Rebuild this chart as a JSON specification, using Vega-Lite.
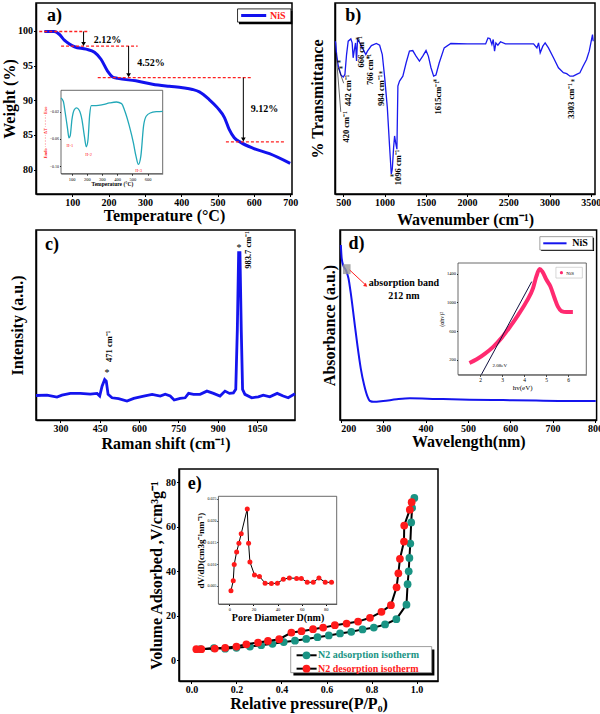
{
"$schema": "https://vega.github.io/schema/vega-lite/v6.json",
"background": "white",
"padding": {"left": 0, "top": 2, "right": 0, "bottom": 0},
"config": {
 "font": "Liberation Serif",
 "view": {"stroke": "black", "strokeWidth": 1.5},
 "axis": {"labelFont": "Liberation Serif", "titleFont": "Liberation Serif", "labelFontSize": 10, "labelFontWeight": "bold", "titleFontSize": 16, "titleFontWeight": "bold", "labelColor": "black", "titleColor": "black", "domainColor": "black", "tickColor": "black", "grid": false, "tickSize": 2.5, "domainWidth": 1.5, "labelPadding": 1, "titlePadding": 1},
 "text": {"font": "Liberation Serif"}
},
"datasets": {
 "tga": [{"x":23,"y":99.9},{"x":50,"y":99.9},{"x":64,"y":99.5},{"x":78,"y":98.65},{"x":92,"y":98.1},{"x":106,"y":97.7},{"x":138,"y":97.35},{"x":161,"y":96.9},{"x":179,"y":95.9},{"x":197,"y":94.2},{"x":211,"y":93.35},{"x":225,"y":93.15},{"x":275,"y":92.8},{"x":321,"y":92.3},{"x":367,"y":92.0},{"x":404,"y":91.8},{"x":431,"y":91.55},{"x":450,"y":91.2},{"x":477,"y":90.1},{"x":500,"y":88.9},{"x":519,"y":87.5},{"x":532,"y":85.8},{"x":546,"y":84.6},{"x":565,"y":83.9},{"x":597,"y":83.1},{"x":643,"y":82.3},{"x":700,"y":80.9}],
 "tgaDash": [{"x":9,"x2":147,"y":99.9},{"x":69,"x2":280,"y":97.8},{"x":170,"x2":592,"y":93.25},{"x":523,"x2":688,"y":84.0}],
 "tgaArrow": [{"x":131,"y":99.9,"y2":98.1},{"x":255,"y":97.8,"y2":93.6},{"x":571,"y":93.25,"y2":84.35}],
 "tgaText": [{"x":197,"y":98.65,"t":"2.12%"},{"x":317,"y":95.4,"t":"4.52%"},{"x":629,"y":88.7,"t":"9.12%"}],
 "dta": [{"x":30,"y":0.0},{"x":45,"y":-0.0049},{"x":58,"y":-0.022},{"x":74,"y":-0.0463},{"x":82,"y":-0.0585},{"x":91,"y":-0.055},{"x":102,"y":-0.0317},{"x":118,"y":-0.017},{"x":133,"y":-0.0146},{"x":150,"y":-0.018},{"x":168,"y":-0.0317},{"x":184,"y":-0.056},{"x":197,"y":-0.0717},{"x":208,"y":-0.061},{"x":219,"y":-0.0244},{"x":230,"y":-0.0112},{"x":261,"y":-0.0112},{"x":305,"y":-0.0098},{"x":350,"y":-0.0073},{"x":396,"y":-0.0059},{"x":429,"y":-0.0083},{"x":451,"y":-0.0195},{"x":480,"y":-0.041},{"x":507,"y":-0.066},{"x":524,"y":-0.0854},{"x":540,"y":-0.0976},{"x":556,"y":-0.0854},{"x":574,"y":-0.041},{"x":591,"y":-0.0268},{"x":618,"y":-0.022},{"x":662,"y":-0.02},{"x":700,"y":-0.0195}],
 "dtaLab": [{"x":89,"y":-0.0668,"t":"II-1"},{"x":212,"y":-0.079,"t":"II-2"},{"x":542,"y":-0.1024,"t":"II-3"}],
 "ir": [{"x":402,"y":80},{"x":408,"y":79.1},{"x":420,"y":73},{"x":440,"y":67},{"x":472,"y":62.3},{"x":500,"y":61.2},{"x":520,"y":62.6},{"x":540,"y":73},{"x":560,"y":80},{"x":592,"y":81.2},{"x":608,"y":79.1},{"x":620,"y":71.3},{"x":632,"y":74.8},{"x":649,"y":79.1},{"x":661,"y":69.6},{"x":673,"y":80.9},{"x":701,"y":79.1},{"x":741,"y":75.7},{"x":773,"y":73},{"x":793,"y":74.8},{"x":841,"y":77.7},{"x":901,"y":78.8},{"x":941,"y":77.9},{"x":973,"y":73},{"x":1002,"y":60.9},{"x":1034,"y":45.2},{"x":1062,"y":24.3},{"x":1082,"y":10.4},{"x":1094,"y":13},{"x":1110,"y":24.3},{"x":1122,"y":30.4},{"x":1134,"y":27},{"x":1150,"y":23.5},{"x":1162,"y":56.5},{"x":1182,"y":59.1},{"x":1222,"y":61.7},{"x":1262,"y":68.7},{"x":1302,"y":74.8},{"x":1342,"y":75.1},{"x":1382,"y":72.2},{"x":1423,"y":69.6},{"x":1463,"y":72.2},{"x":1503,"y":75.1},{"x":1531,"y":72.2},{"x":1563,"y":66.1},{"x":1595,"y":61.7},{"x":1623,"y":62.3},{"x":1663,"y":68.7},{"x":1723,"y":76.5},{"x":1803,"y":78.8},{"x":2004,"y":78.6},{"x":2225,"y":78.6},{"x":2253,"y":81.7},{"x":2277,"y":81.4},{"x":2301,"y":78.3},{"x":2317,"y":80.9},{"x":2333,"y":74.8},{"x":2349,"y":79.1},{"x":2373,"y":77.9},{"x":2405,"y":79.7},{"x":2465,"y":78.6},{"x":2606,"y":78.6},{"x":2806,"y":78.6},{"x":2846,"y":76.5},{"x":2866,"y":79.1},{"x":2886,"y":73.9},{"x":2918,"y":77.4},{"x":2946,"y":79.1},{"x":2986,"y":76.5},{"x":3047,"y":71.3},{"x":3107,"y":66.1},{"x":3167,"y":63.5},{"x":3207,"y":63},{"x":3247,"y":61.7},{"x":3287,"y":61.7},{"x":3327,"y":62.6},{"x":3367,"y":63.5},{"x":3407,"y":67},{"x":3448,"y":70.4},{"x":3480,"y":74.8},{"x":3500,"y":79.1},{"x":3520,"y":83.5},{"x":3528,"y":80}],
 "irLab": [{"x":528,"y":35.1,"t":"420 cm⁻¹"},{"x":560,"y":54.3,"t":"442 cm⁻¹"},{"x":721,"y":74.4,"t":"666 cm⁻¹"},{"x":821,"y":65.2,"t":"766 cm⁻¹"},{"x":961,"y":54.3,"t":"984 cm⁻¹"},{"x":1162,"y":13.9,"t":"1096 cm⁻¹"},{"x":1643,"y":50.4,"t":"1615cm⁻¹"},{"x":3255,"y":48.7,"t":"3303 cm⁻¹"}],
 "irStar": [{"x":448,"y":68.5},{"x":472,"y":65.5},{"x":673,"y":80.5},{"x":801,"y":70.5},{"x":953,"y":63},{"x":1090,"y":9},{"x":1611,"y":58.5},{"x":3279,"y":58.5}],
 "irLead": [{"x":413,"y":74,"x2":470,"y2":43},{"x":440,"y":66,"x2":505,"y2":58}],
 "raman": [{"x":207,"y":12.9},{"x":249,"y":13.1},{"x":287,"y":12.1},{"x":306,"y":13.1},{"x":338,"y":14},{"x":376,"y":14},{"x":414,"y":13.6},{"x":440,"y":14},{"x":450,"y":12.6},{"x":459,"y":17.8},{"x":469,"y":21.3},{"x":475,"y":20.5},{"x":482,"y":13.5},{"x":497,"y":11.7},{"x":522,"y":11.2},{"x":554,"y":10},{"x":580,"y":11.4},{"x":618,"y":12.6},{"x":650,"y":13.5},{"x":681,"y":12.6},{"x":700,"y":13.6},{"x":719,"y":12.6},{"x":734,"y":10.5},{"x":757,"y":11.4},{"x":776,"y":11.7},{"x":789,"y":14},{"x":808,"y":13.5},{"x":833,"y":13.5},{"x":859,"y":15.2},{"x":884,"y":14},{"x":909,"y":12.6},{"x":928,"y":15.2},{"x":945,"y":14},{"x":960,"y":14.3},{"x":969,"y":16.1},{"x":975,"y":47.6},{"x":980,"y":88.1},{"x":985,"y":88.1},{"x":990,"y":47.6},{"x":995,"y":16.1},{"x":1004,"y":13.5},{"x":1030,"y":11.7},{"x":1055,"y":12.2},{"x":1074,"y":13.1},{"x":1099,"y":12.2},{"x":1127,"y":14},{"x":1150,"y":12.6},{"x":1169,"y":11.7},{"x":1195,"y":13.8}],
 "uv": [{"x":200,"y":92.1},{"x":202,"y":85.1},{"x":206,"y":81.2},{"x":212,"y":78.9},{"x":218,"y":74.6},{"x":224,"y":65.8},{"x":231,"y":53.5},{"x":239,"y":39.5},{"x":247,"y":27.2},{"x":255,"y":18.4},{"x":263,"y":12.3},{"x":269,"y":10},{"x":277,"y":9.6},{"x":300,"y":10},{"x":332,"y":10.9},{"x":363,"y":11.4},{"x":425,"y":11.1},{"x":504,"y":10.7},{"x":583,"y":10.5},{"x":661,"y":10.2},{"x":740,"y":10},{"x":802,"y":10}],
 "tauc": [{"x":1.52,"y":153},{"x":1.85,"y":205},{"x":2.23,"y":284},{"x":2.6,"y":378},{"x":2.98,"y":504},{"x":3.36,"y":659},{"x":3.73,"y":823},{"x":4.11,"y":1010},{"x":4.41,"y":1198},{"x":4.56,"y":1362},{"x":4.71,"y":1465},{"x":4.83,"y":1432},{"x":5.02,"y":1315},{"x":5.2,"y":1221},{"x":5.39,"y":1057},{"x":5.54,"y":940},{"x":5.7,"y":879},{"x":5.92,"y":865},{"x":6.22,"y":865}],
 "ads": [{"x":0.04,"y":5.0},{"x":0.1,"y":5.5},{"x":0.15,"y":5.2},{"x":0.2,"y":5.6},{"x":0.26,"y":6.2},{"x":0.31,"y":6.8},{"x":0.36,"y":7.4},{"x":0.41,"y":8.2},{"x":0.46,"y":8.8},{"x":0.51,"y":9.6},{"x":0.56,"y":10.4},{"x":0.61,"y":11.2},{"x":0.66,"y":12.1},{"x":0.71,"y":12.8},{"x":0.76,"y":13.9},{"x":0.81,"y":14.7},{"x":0.86,"y":16.1},{"x":0.91,"y":18.5},{"x":0.955,"y":25},{"x":0.96,"y":34.2},{"x":0.965,"y":40},{"x":0.968,"y":46},{"x":0.972,"y":52.5},{"x":0.976,"y":62},{"x":0.98,"y":68.5},{"x":0.99,"y":73}],
 "des": [{"x":0.022,"y":5.0},{"x":0.044,"y":5.0},{"x":0.104,"y":5.3},{"x":0.15,"y":5.6},{"x":0.2,"y":6.2},{"x":0.244,"y":7.2},{"x":0.296,"y":8.0},{"x":0.34,"y":8.7},{"x":0.39,"y":9.5},{"x":0.444,"y":12.5},{"x":0.489,"y":13.1},{"x":0.54,"y":14},{"x":0.585,"y":14.7},{"x":0.637,"y":15.8},{"x":0.689,"y":16.5},{"x":0.74,"y":17.4},{"x":0.793,"y":19.1},{"x":0.844,"y":21.8},{"x":0.886,"y":24.8},{"x":0.911,"y":32.8},{"x":0.919,"y":39.1},{"x":0.926,"y":45.6},{"x":0.944,"y":53.4},{"x":0.945,"y":60.6},{"x":0.97,"y":67.7},{"x":0.978,"y":71.1}],
 "pore": [{"x":1.4,"y":0.00385},{"x":3.3,"y":0.00615},{"x":4.1,"y":0.0099},{"x":6.1,"y":0.0128},{"x":8.0,"y":0.0148},{"x":9.9,"y":0.017},{"x":14.9,"y":0.0227},{"x":16,"y":0.0148},{"x":17.1,"y":0.0105},{"x":20.9,"y":0.0075},{"x":25,"y":0.00715},{"x":29.7,"y":0.0056},{"x":34.9,"y":0.0055},{"x":39.9,"y":0.0056},{"x":44.8,"y":0.0065},{"x":49.8,"y":0.0068},{"x":55.8,"y":0.0067},{"x":59.7,"y":0.0067},{"x":64.6,"y":0.0058},{"x":69.6,"y":0.0058},{"x":74.3,"y":0.0068},{"x":79.5,"y":0.0058},{"x":84.7,"y":0.0058}]
},
"vconcat": [
 {
  "vconcat": [
   {
    "hconcat": [
     {
      "width": 256, "height": 191,
      "layer": [
       {"layer": [
        {"data": {"name": "tga"}, "mark": {"type": "line", "color": "#1212ee", "strokeWidth": 3, "interpolate": "monotone"},
         "encoding": {
          "x": {"field": "x", "type": "quantitative", "scale": {"domain": [0, 705], "nice": false, "zero": false}, "axis": {"title": "Temperature (°C)", "values": [100, 200, 300, 400, 500, 600, 700], "titlePadding": 0}},
          "y": {"field": "y", "type": "quantitative", "scale": {"domain": [76.5, 104], "nice": false, "zero": false}, "axis": {"title": "Weight (%)", "values": [80, 85, 90, 95, 100], "titlePadding": 0}}}},
        {"data": {"name": "tgaDash"}, "mark": {"type": "rule", "color": "#ff2020", "strokeDash": [3, 2], "strokeWidth": 1.3},
         "encoding": {"x": {"field": "x", "type": "quantitative"}, "x2": {"field": "x2"}, "y": {"field": "y", "type": "quantitative"}}},
        {"data": {"name": "tgaArrow"}, "mark": {"type": "rule", "color": "black", "strokeWidth": 1},
         "encoding": {"x": {"field": "x", "type": "quantitative"}, "y": {"field": "y", "type": "quantitative"}, "y2": {"field": "y2"}}},
        {"data": {"name": "tgaArrow"}, "mark": {"type": "point", "shape": "triangle-down", "filled": true, "color": "black", "size": 22, "opacity": 1},
         "encoding": {"x": {"field": "x", "type": "quantitative"}, "y": {"field": "y2", "type": "quantitative"}}},
        {"data": {"name": "tgaText"}, "mark": {"type": "text", "fontSize": 10, "fontWeight": "bold", "color": "black"},
         "encoding": {"x": {"field": "x", "type": "quantitative"}, "y": {"field": "y", "type": "quantitative"}, "text": {"field": "t"}}},
        {"data": {"values": [{"x": 51, "y": 102.2, "t": "a)"}]}, "mark": {"type": "text", "fontSize": 18, "fontWeight": "bold", "color": "black"},
         "encoding": {"x": {"field": "x", "type": "quantitative"}, "y": {"field": "y", "type": "quantitative"}, "text": {"field": "t"}}},
        {"data": {"values": [{"x": 559, "x2": 706, "y": 100.95, "y2": 102.85}]}, "mark": {"type": "rect", "color": "black"},
         "encoding": {"x": {"field": "x", "type": "quantitative"}, "x2": {"field": "x2"}, "y": {"field": "y", "type": "quantitative"}, "y2": {"field": "y2"}}},
        {"data": {"values": [{"x": 555, "x2": 702, "y": 101.25, "y2": 103.15}]}, "mark": {"type": "rect", "fill": "white", "stroke": "black", "strokeWidth": 0.8},
         "encoding": {"x": {"field": "x", "type": "quantitative"}, "x2": {"field": "x2"}, "y": {"field": "y", "type": "quantitative"}, "y2": {"field": "y2"}}},
        {"data": {"values": [{"x": 565, "x2": 634, "y": 102.2}]}, "mark": {"type": "rule", "color": "#1212ee", "strokeWidth": 3},
         "encoding": {"x": {"field": "x", "type": "quantitative"}, "x2": {"field": "x2"}, "y": {"field": "y", "type": "quantitative"}}},
        {"data": {"values": [{"x": 666, "y": 102.2, "t": "NiS"}]}, "mark": {"type": "text", "fontSize": 10, "fontWeight": "bold", "color": "#ff2020"},
         "encoding": {"x": {"field": "x", "type": "quantitative"}, "y": {"field": "y", "type": "quantitative"}, "text": {"field": "t"}}}
       ]},
       {"layer": [
        {"data": {"values": [{"x": 30, "x2": 700, "y": -0.111, "y2": 0.0113}]}, "mark": {"type": "rect", "fill": "white", "stroke": "#444", "strokeWidth": 0.8},
         "encoding": {
          "x": {"field": "x", "type": "quantitative", "scale": {"domain": [30, 700], "range": [25, 126.7], "nice": false, "zero": false}, "axis": {"orient": "bottom", "offset": -20.4, "values": [100, 200, 300, 400, 500, 600], "labelFontSize": 4.5, "labelFontWeight": "normal", "tickSize": 1.5, "labelPadding": 1, "domainWidth": 0.8, "domainColor": "#444", "title": "Temperature (°C)", "titleFontSize": 5.5, "titlePadding": 1}},
          "x2": {"field": "x2"},
          "y": {"field": "y", "type": "quantitative", "scale": {"domain": [-0.111, 0.0113], "range": [170.6, 87.3], "nice": false, "zero": false}, "axis": {"orient": "left", "offset": -25, "values": [0, -0.02, -0.04, -0.06, -0.08, -0.1], "format": ".2f", "labelFontSize": 4, "labelFontWeight": "normal", "tickSize": 1.5, "labelPadding": 1, "domainWidth": 0.8, "domainColor": "#444", "title": "Endo ········ ΔT ········ Exo", "titleColor": "#ff2020", "titleFontSize": 4.5, "titlePadding": 2}},
          "y2": {"field": "y2"}}},
        {"data": {"name": "dta"}, "mark": {"type": "line", "color": "#22a8b8", "strokeWidth": 1.3, "interpolate": "monotone"},
         "encoding": {"x": {"field": "x", "type": "quantitative"}, "y": {"field": "y", "type": "quantitative"}}},
        {"data": {"name": "dtaLab"}, "mark": {"type": "text", "fontSize": 4.5, "color": "#ff2020", "baseline": "top"},
         "encoding": {"x": {"field": "x", "type": "quantitative"}, "y": {"field": "y", "type": "quantitative"}, "text": {"field": "t"}}}
       ]}
      ],
      "resolve": {"scale": {"x": "independent", "y": "independent"}}
     },
     {
      "width": 260, "height": 191,
      "layer": [
       {"data": {"name": "ir"}, "mark": {"type": "line", "color": "#1a1aee", "strokeWidth": 1.3},
        "encoding": {
         "x": {"field": "x", "type": "quantitative", "scale": {"domain": [400, 3550], "nice": false, "zero": false}, "axis": {"title": "Wavenumber (cm⁻¹)", "values": [500, 1000, 1500, 2000, 2500, 3000, 3500], "format": "d", "titlePadding": 4}},
         "y": {"field": "y", "type": "quantitative", "scale": {"domain": [0, 100], "nice": false, "zero": false}, "axis": {"title": "% Transmittance", "labels": false, "ticks": false, "titlePadding": 10}}}},
       {"data": {"name": "irLead"}, "mark": {"type": "rule", "color": "black", "strokeWidth": 0.6},
        "encoding": {"x": {"field": "x", "type": "quantitative"}, "x2": {"field": "x2"}, "y": {"field": "y", "type": "quantitative"}, "y2": {"field": "y2"}}},
       {"data": {"name": "irLab"}, "mark": {"type": "text", "fontSize": 8.5, "fontWeight": "bold", "angle": 270, "color": "black"},
        "encoding": {"x": {"field": "x", "type": "quantitative"}, "y": {"field": "y", "type": "quantitative"}, "text": {"field": "t"}}},
       {"data": {"name": "irStar"}, "mark": {"type": "text", "fontSize": 9, "color": "black", "text": "*"},
        "encoding": {"x": {"field": "x", "type": "quantitative"}, "y": {"field": "y", "type": "quantitative"}}},
       {"data": {"values": [{"x": 622, "y": 93, "t": "b)"}]}, "mark": {"type": "text", "fontSize": 18, "fontWeight": "bold", "color": "black"},
        "encoding": {"x": {"field": "x", "type": "quantitative"}, "y": {"field": "y", "type": "quantitative"}, "text": {"field": "t"}}}
      ]
     }
    ],
    "spacing": 43, "bounds": "flush"
   },
   {
    "hconcat": [
     {
      "width": 259, "height": 190,
      "layer": [
       {"data": {"name": "raman"}, "mark": {"type": "line", "color": "#1414ee", "strokeWidth": 2.8},
        "encoding": {
         "x": {"field": "x", "type": "quantitative", "scale": {"domain": [207, 1195], "nice": false, "zero": false}, "axis": {"title": "Raman shift (cm⁻¹)", "values": [300, 450, 600, 750, 900, 1050], "format": "d", "titlePadding": 2}},
         "y": {"field": "y", "type": "quantitative", "scale": {"domain": [0, 100], "nice": false, "zero": false}, "axis": {"title": "Intensity (a.u.)", "labels": false, "ticks": false, "titlePadding": 11}}}},
       {"data": {"values": [{"x": 485, "y": 38.8, "t": "471 cm⁻¹"}, {"x": 1017, "y": 89.5, "t": "983.7 cm⁻¹"}]}, "mark": {"type": "text", "fontSize": 8.5, "fontWeight": "bold", "angle": 270, "color": "black"},
        "encoding": {"x": {"field": "x", "type": "quantitative"}, "y": {"field": "y", "type": "quantitative"}, "text": {"field": "t"}}},
       {"data": {"values": [{"x": 478, "y": 24.5}, {"x": 981, "y": 90.3}]}, "mark": {"type": "text", "fontSize": 10, "color": "black", "text": "*"},
        "encoding": {"x": {"field": "x", "type": "quantitative"}, "y": {"field": "y", "type": "quantitative"}}},
       {"data": {"values": [{"x": 268, "y": 92, "t": "c)"}]}, "mark": {"type": "text", "fontSize": 18, "fontWeight": "bold", "color": "black"},
        "encoding": {"x": {"field": "x", "type": "quantitative"}, "y": {"field": "y", "type": "quantitative"}, "text": {"field": "t"}}}
      ]
     },
     {
      "width": 256.6, "height": 190,
      "layer": [
       {"layer": [
        {"data": {"name": "uv"}, "mark": {"type": "line", "color": "#1414ee", "strokeWidth": 2, "interpolate": "monotone"},
         "encoding": {
          "x": {"field": "x", "type": "quantitative", "scale": {"domain": [198, 804], "nice": false, "zero": false}, "axis": {"title": "Wavelength(nm)", "values": [200, 300, 400, 500, 600, 700, 800], "titlePadding": 0}},
          "y": {"field": "y", "type": "quantitative", "scale": {"domain": [0, 100], "nice": false, "zero": false}, "axis": {"title": "Absorbance (a.u.)", "labels": false, "ticks": false, "titlePadding": 3}}}},
        {"data": {"values": [{"x": 205, "x2": 223, "y": 76.8, "y2": 82}]}, "mark": {"type": "rect", "color": "#999999", "opacity": 0.8},
         "encoding": {"x": {"field": "x", "type": "quantitative"}, "x2": {"field": "x2"}, "y": {"field": "y", "type": "quantitative"}, "y2": {"field": "y2"}}},
        {"data": {"values": [{"x": 221, "x2": 258, "y": 78.9, "y2": 71.2}]}, "mark": {"type": "rule", "color": "#ff2020", "strokeWidth": 1},
         "encoding": {"x": {"field": "x", "type": "quantitative"}, "x2": {"field": "x2"}, "y": {"field": "y", "type": "quantitative"}, "y2": {"field": "y2"}}},
        {"data": {"values": [{"x": 259, "y": 70.8}]}, "mark": {"type": "point", "shape": "triangle-right", "angle": 40, "filled": true, "color": "#ff2020", "size": 18, "opacity": 1},
         "encoding": {"x": {"field": "x", "type": "quantitative"}, "y": {"field": "y", "type": "quantitative"}}},
        {"data": {"values": [{"x": 349, "y": 72, "t": "absorption band"}, {"x": 349, "y": 65.5, "t": "212 nm"}]}, "mark": {"type": "text", "fontSize": 10, "fontWeight": "bold", "color": "black"},
         "encoding": {"x": {"field": "x", "type": "quantitative"}, "y": {"field": "y", "type": "quantitative"}, "text": {"field": "t"}}},
        {"data": {"values": [{"x": 237, "y": 92.5, "t": "d)"}]}, "mark": {"type": "text", "fontSize": 18, "fontWeight": "bold", "color": "black"},
         "encoding": {"x": {"field": "x", "type": "quantitative"}, "y": {"field": "y", "type": "quantitative"}, "text": {"field": "t"}}},
        {"data": {"values": [{"x": 673, "x2": 798, "y": 88.9, "y2": 95.9}]}, "mark": {"type": "rect", "color": "black"},
         "encoding": {"x": {"field": "x", "type": "quantitative"}, "x2": {"field": "x2"}, "y": {"field": "y", "type": "quantitative"}, "y2": {"field": "y2"}}},
        {"data": {"values": [{"x": 670, "x2": 795, "y": 89.5, "y2": 96.5}]}, "mark": {"type": "rect", "fill": "white", "stroke": "#888", "strokeWidth": 0.8},
         "encoding": {"x": {"field": "x", "type": "quantitative"}, "x2": {"field": "x2"}, "y": {"field": "y", "type": "quantitative"}, "y2": {"field": "y2"}}},
        {"data": {"values": [{"x": 678, "x2": 733, "y": 93}]}, "mark": {"type": "rule", "color": "#1414ee", "strokeWidth": 2},
         "encoding": {"x": {"field": "x", "type": "quantitative"}, "x2": {"field": "x2"}, "y": {"field": "y", "type": "quantitative"}}},
        {"data": {"values": [{"x": 765, "y": 93, "t": "NiS"}]}, "mark": {"type": "text", "fontSize": 10, "fontWeight": "bold", "color": "black"},
         "encoding": {"x": {"field": "x", "type": "quantitative"}, "y": {"field": "y", "type": "quantitative"}, "text": {"field": "t"}}}
       ]},
       {"layer": [
        {"data": {"values": [{"x": 1, "x2": 6.83, "y": -10, "y2": 1550}]}, "mark": {"type": "rect", "fill": "white", "stroke": "#444", "strokeWidth": 0.8},
         "encoding": {
          "x": {"field": "x", "type": "quantitative", "scale": {"domain": [1, 6.83], "range": [118, 246.3], "nice": false, "zero": false}, "axis": {"orient": "bottom", "offset": -45.3, "values": [2, 3, 4, 5, 6], "labelFontSize": 5.5, "labelFontWeight": "normal", "tickSize": 1.5, "labelPadding": 1, "domainWidth": 0.8, "domainColor": "#444", "title": "hv(eV)", "titleFontSize": 7, "titleFontWeight": "normal", "titlePadding": 1}},
          "x2": {"field": "x2"},
          "y": {"field": "y", "type": "quantitative", "scale": {"domain": [-10, 1550], "range": [144.7, 33], "nice": false, "zero": false}, "axis": {"orient": "left", "offset": -118, "values": [200, 400, 600, 800, 1000, 1200, 1400], "format": "d", "labelFontSize": 4.5, "labelFontWeight": "normal", "tickSize": 1.5, "labelPadding": 1, "domainWidth": 0.8, "domainColor": "#444", "title": "(αhv)²", "titleFontSize": 6, "titleFontWeight": "normal", "titlePadding": 2}},
          "y2": {"field": "y2"}}},
        {"data": {"name": "tauc"}, "mark": {"type": "line", "color": "#ff2a70", "strokeWidth": 4, "interpolate": "monotone"},
         "encoding": {"x": {"field": "x", "type": "quantitative"}, "y": {"field": "y", "type": "quantitative"}}},
        {"data": {"values": [{"x": 2.06, "y": -10}, {"x": 4.35, "y": 1290}]}, "mark": {"type": "line", "color": "#101040", "strokeWidth": 1},
         "encoding": {"x": {"field": "x", "type": "quantitative"}, "y": {"field": "y", "type": "quantitative"}}},
        {"data": {"values": [{"x": 2.9, "y": 130, "t": "2.08eV"}]}, "mark": {"type": "text", "fontSize": 5, "color": "black"},
         "encoding": {"x": {"field": "x", "type": "quantitative"}, "y": {"field": "y", "type": "quantitative"}, "text": {"field": "t"}}},
        {"data": {"values": [{"x": 5.45, "x2": 6.65, "y": 1340, "y2": 1490}]}, "mark": {"type": "rect", "fill": "white", "stroke": "#bbb", "strokeWidth": 0.6},
         "encoding": {"x": {"field": "x", "type": "quantitative"}, "x2": {"field": "x2"}, "y": {"field": "y", "type": "quantitative"}, "y2": {"field": "y2"}}},
        {"data": {"values": [{"x": 5.7, "y": 1415}]}, "mark": {"type": "point", "shape": "circle", "filled": true, "color": "#ff2a70", "size": 10, "opacity": 1},
         "encoding": {"x": {"field": "x", "type": "quantitative"}, "y": {"field": "y", "type": "quantitative"}}},
        {"data": {"values": [{"x": 6.1, "y": 1415, "t": "NiS"}]}, "mark": {"type": "text", "fontSize": 5, "color": "black"},
         "encoding": {"x": {"field": "x", "type": "quantitative"}, "y": {"field": "y", "type": "quantitative"}, "text": {"field": "t"}}}
       ]}
      ],
      "resolve": {"scale": {"x": "independent", "y": "independent"}}
     }
    ],
    "spacing": 45, "bounds": "flush"
   }
  ],
  "spacing": 0
 },
 {
  "hconcat": [
   {"width": 111, "height": 10, "view": {"stroke": null}, "data": {"values": [{"t": ""}]}, "mark": {"type": "text"}, "encoding": {"text": {"field": "t"}}},
   {
    "width": 259, "height": 212,
    "layer": [
     {"layer": [
      {"data": {"name": "ads"}, "mark": {"type": "line", "color": "black", "strokeWidth": 2},
       "encoding": {
        "x": {"field": "x", "type": "quantitative", "scale": {"domain": [-0.055, 1.095], "nice": false, "zero": false}, "axis": {"title": "Relative pressure(P/P₀)", "values": [0, 0.2, 0.4, 0.6, 0.8, 1.0], "format": ".1f", "titlePadding": 1}},
        "y": {"field": "y", "type": "quantitative", "scale": {"domain": [-9.3, 86], "nice": false, "zero": false}, "axis": {"title": "Volume Adsorbed ,V/cm³g⁻¹", "values": [0, 20, 40, 60, 80], "titlePadding": 1}}}},
      {"data": {"name": "ads"}, "mark": {"type": "point", "shape": "circle", "filled": true, "color": "#1a9484", "size": 60, "opacity": 1},
       "encoding": {"x": {"field": "x", "type": "quantitative"}, "y": {"field": "y", "type": "quantitative"}}},
      {"data": {"name": "des"}, "mark": {"type": "line", "color": "black", "strokeWidth": 2},
       "encoding": {"x": {"field": "x", "type": "quantitative"}, "y": {"field": "y", "type": "quantitative"}}},
      {"data": {"name": "des"}, "mark": {"type": "point", "shape": "circle", "filled": true, "color": "#ff1a1a", "size": 60, "opacity": 1},
       "encoding": {"x": {"field": "x", "type": "quantitative"}, "y": {"field": "y", "type": "quantitative"}}},
      {"data": {"values": [{"x": 0.015, "y": 79.4, "t": "e)"}]}, "mark": {"type": "text", "fontSize": 18, "fontWeight": "bold", "color": "black"},
       "encoding": {"x": {"field": "x", "type": "quantitative"}, "y": {"field": "y", "type": "quantitative"}, "text": {"field": "t"}}},
      {"data": {"values": [{"x": 0.453, "x2": 1.079, "y": -6.8, "y2": 4.9}]}, "mark": {"type": "rect", "color": "black"},
       "encoding": {"x": {"field": "x", "type": "quantitative"}, "x2": {"field": "x2"}, "y": {"field": "y", "type": "quantitative"}, "y2": {"field": "y2"}}},
      {"data": {"values": [{"x": 0.441, "x2": 1.067, "y": -5.56, "y2": 6.17}]}, "mark": {"type": "rect", "fill": "white", "stroke": "#888", "strokeWidth": 0.8},
       "encoding": {"x": {"field": "x", "type": "quantitative"}, "x2": {"field": "x2"}, "y": {"field": "y", "type": "quantitative"}, "y2": {"field": "y2"}}},
      {"data": {"values": [{"x": 0.467, "x2": 0.556, "y": 2.26}, {"x": 0.467, "x2": 0.556, "y": -3.76}]}, "mark": {"type": "rule", "color": "black", "strokeWidth": 2},
       "encoding": {"x": {"field": "x", "type": "quantitative"}, "x2": {"field": "x2"}, "y": {"field": "y", "type": "quantitative"}}},
      {"data": {"values": [{"x": 0.511, "y": 2.26, "s": "N2 adsorption  isotherm"}, {"x": 0.511, "y": -3.76, "s": "N2 desorption isotherm"}]}, "mark": {"type": "point", "shape": "circle", "filled": true, "size": 60, "opacity": 1},
       "encoding": {"x": {"field": "x", "type": "quantitative"}, "y": {"field": "y", "type": "quantitative"}, "color": {"field": "s", "type": "nominal", "scale": {"domain": ["N2 adsorption  isotherm", "N2 desorption isotherm"], "range": ["#1a9484", "#ff1a1a"]}, "legend": null}}},
      {"data": {"values": [{"x": 0.562, "y": 2.26, "s": "N2 adsorption  isotherm"}, {"x": 0.562, "y": -3.76, "s": "N2 desorption isotherm"}]}, "mark": {"type": "text", "fontSize": 10, "fontWeight": "bold", "align": "left"},
       "encoding": {"x": {"field": "x", "type": "quantitative"}, "y": {"field": "y", "type": "quantitative"}, "text": {"field": "s"}, "color": {"field": "s", "type": "nominal", "legend": null}}}
     ]},
     {"layer": [
      {"data": {"values": [{"x": -9, "x2": 89, "y": 0.0008, "y2": 0.0256}]}, "mark": {"type": "rect", "fill": "white", "stroke": "#444", "strokeWidth": 0.8},
       "encoding": {
        "x": {"field": "x", "type": "quantitative", "scale": {"domain": [-9, 89], "range": [39.4, 157.7], "nice": false, "zero": false}, "axis": {"orient": "bottom", "offset": -77, "values": [0, 20, 40, 60, 80], "labelFontSize": 4.5, "labelFontWeight": "normal", "tickSize": 1.5, "labelPadding": 1, "domainWidth": 0.8, "domainColor": "#444", "title": "Pore Diameter D(nm)", "titleFontSize": 10, "titlePadding": 1}},
        "x2": {"field": "x2"},
        "y": {"field": "y", "type": "quantitative", "scale": {"domain": [0.0008, 0.0256], "range": [135, 27.3], "nice": false, "zero": false}, "axis": {"orient": "left", "offset": -39.4, "values": [0.005, 0.01, 0.015, 0.02, 0.025], "format": ".3f", "labelFontSize": 4, "labelFontWeight": "normal", "tickSize": 1.5, "labelPadding": 1, "domainWidth": 0.8, "domainColor": "#444", "title": "dV/dD(cm3g⁻¹nm⁻¹)", "titleFontSize": 9, "titlePadding": 1}},
        "y2": {"field": "y2"}}},
      {"data": {"name": "pore"}, "mark": {"type": "line", "color": "black", "strokeWidth": 1},
       "encoding": {"x": {"field": "x", "type": "quantitative"}, "y": {"field": "y", "type": "quantitative"}}},
      {"data": {"name": "pore"}, "mark": {"type": "point", "shape": "circle", "filled": true, "color": "#ff1a1a", "size": 25, "opacity": 1},
       "encoding": {"x": {"field": "x", "type": "quantitative"}, "y": {"field": "y", "type": "quantitative"}}}
     ]}
    ],
    "resolve": {"scale": {"x": "independent", "y": "independent", "color": "shared"}}
   }
  ],
  "spacing": 0
 }
],
"spacing": 15
}
